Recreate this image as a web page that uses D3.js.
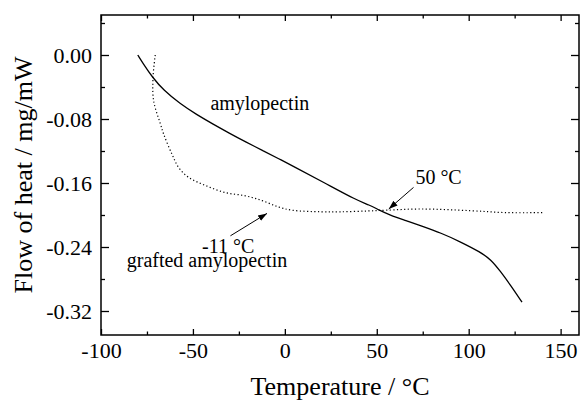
<!DOCTYPE html>
<html>
<head>
<meta charset="utf-8">
<script src="https://cdn.jsdelivr.net/npm/d3@7"></script>
<style>
  body { margin: 0; background: #fff; }
  text { font-family: "Liberation Serif", "Times New Roman", serif; fill: #000; }
</style>
</head>
<body>
<svg width="583" height="402"></svg>
<script>
var svg = d3.select('svg');
var width = +svg.attr('width');
var height = +svg.attr('height');

// amylopectin (solid)
const amyloTemp = [-80, -77, -72, -66, -57, -48, -39, -30, -21, -12, -3, 4, 21, 39, 46, 51, 57, 66, 74, 85, 95.5, 106.4, 112, 117.3, 122.7, 129];
const amyloFlow = [0, -0.011, -0.028, -0.044, -0.061, -0.0745, -0.0865, -0.098, -0.109, -0.1195, -0.130, -0.1385, -0.159, -0.1815, -0.1875, -0.1935, -0.200, -0.207, -0.2135, -0.2225, -0.2335, -0.2465, -0.2555, -0.2705, -0.2875, -0.309];

// grafted amylopectin (dotted)
const graftTemp = [-70.5, -71.7, -71.4, -67.7, -65.9, -61.4, -57.8, -52.3, -43.3, -32.4, -21.5, -12.4, -3.4, 3.9, 20, 30, 45, 55, 74, 101, 120, 140];
const graftFlow = [0, -0.028, -0.057, -0.086, -0.099, -0.124, -0.1405, -0.153, -0.163, -0.172, -0.176, -0.182, -0.190, -0.194, -0.196, -0.196, -0.195, -0.194, -0.1925, -0.1946, -0.197, -0.197];

const xMajor = [-100, -50, 0, 50, 100, 150];
const xMinor = [-75, -25, 25, 75, 125];
const yMajor = [0, -0.08, -0.16, -0.24, -0.32];
const yMinor = [0.04, -0.04, -0.12, -0.20, -0.28];

// annotations (data units)
const labels = [
  {text: "amylopectin", t: -40.5, v: -0.069},
  {text: "50 °C", t: 71, v: -0.161},
  {text: "-11 °C", t: -45, v: -0.247},
  {text: "grafted amylopectin", t: -86, v: -0.265}
];
const arrows = [
  {t0: 70, v0: -0.1655, t1: 56.5, v1: -0.1925},
  {t0: -29.6, v0: -0.226, t1: -9.7, v1: -0.198}
];

const margin = {top: 15, right: 4, bottom: 67, left: 101};
const innerWidth = width - margin.left - margin.right;
const innerHeight = height - margin.top - margin.bottom;

const xScale = d3.scaleLinear().domain([-100, 160]).range([0, innerWidth]);
const yScale = d3.scaleLinear().domain([-0.35, 0.05]).range([innerHeight, 0]);

const g = svg.append('g')
  .attr('transform', `translate(${margin.left}, ${margin.top})`);

// axes, ticks pointing inward
function styleAxis(sel) {
  sel.select('.domain').remove();
  sel.selectAll('line').attr('stroke', '#000').attr('stroke-width', 1.3);
  sel.selectAll('text').style('font-family', '"Liberation Serif", serif').style('font-size', '22px');
}
function noLabels(sel) {
  styleAxis(sel);
  sel.selectAll('text').remove();
}
g.append('g').attr('transform', `translate(0,${innerHeight})`)
  .call(d3.axisBottom(xScale).tickValues(xMajor).tickSize(-6).tickPadding(7).tickFormat(d => String(d)))
  .call(styleAxis);
g.append('g').attr('transform', `translate(0,${innerHeight})`)
  .call(d3.axisBottom(xScale).tickValues(xMinor).tickSize(-3.5))
  .call(noLabels);
g.append('g')
  .call(d3.axisTop(xScale).tickValues(xMajor).tickSize(-6))
  .call(noLabels);
g.append('g')
  .call(d3.axisTop(xScale).tickValues(xMinor).tickSize(-3.5))
  .call(noLabels);
g.append('g')
  .call(d3.axisLeft(yScale).tickValues(yMajor).tickSize(-8).tickPadding(9).tickFormat(d => d.toFixed(2)))
  .call(styleAxis);
g.append('g')
  .call(d3.axisLeft(yScale).tickValues(yMinor).tickSize(-4))
  .call(noLabels);
g.append('g').attr('transform', `translate(${innerWidth},0)`)
  .call(d3.axisRight(yScale).tickValues(yMajor).tickSize(-8))
  .call(noLabels);
g.append('g').attr('transform', `translate(${innerWidth},0)`)
  .call(d3.axisRight(yScale).tickValues(yMinor).tickSize(-4))
  .call(noLabels);

// frame
g.append('rect')
  .attr('width', innerWidth).attr('height', innerHeight)
  .attr('fill', 'none').attr('stroke', '#000').attr('stroke-width', 1.5);

// curves
const smoothLine = d3.line()
  .x(d => xScale(d[0]))
  .y(d => yScale(d[1]))
  .curve(d3.curveBasis);
const line = d3.line()
  .x(d => xScale(d[0]))
  .y(d => yScale(d[1]))
  .curve(d3.curveCatmullRom.alpha(0.5));

g.append('path')
  .datum(d3.zip(amyloTemp, amyloFlow))
  .attr('d', smoothLine)
  .attr('fill', 'none').attr('stroke', '#000').attr('stroke-width', 1.3);

g.append('path')
  .datum(d3.zip(graftTemp, graftFlow))
  .attr('d', line)
  .attr('fill', 'none').attr('stroke', '#000').attr('stroke-width', 1.2)
  .attr('stroke-dasharray', '1.2,2.4');

// arrows
svg.append('defs').append('marker')
  .attr('id', 'head').attr('viewBox', '0 0 10 10')
  .attr('refX', 10).attr('refY', 5)
  .attr('markerWidth', 9).attr('markerHeight', 9)
  .attr('markerUnits', 'userSpaceOnUse')
  .attr('orient', 'auto')
  .append('path').attr('d', 'M0,1.5 L10,5 L0,8.5 Z').attr('fill', '#000');

g.selectAll('.arrow').data(arrows).enter().append('line')
  .attr('class', 'arrow')
  .attr('x1', d => xScale(d.t0)).attr('y1', d => yScale(d.v0))
  .attr('x2', d => xScale(d.t1)).attr('y2', d => yScale(d.v1))
  .attr('stroke', '#000').attr('stroke-width', 1)
  .attr('marker-end', 'url(#head)');

g.selectAll('.lbl').data(labels).enter().append('text')
  .attr('class', 'lbl')
  .attr('x', d => xScale(d.t)).attr('y', d => yScale(d.v))
  .style('font-size', '20px')
  .text(d => d.text);

// axis titles
svg.append('text')
  .attr('x', margin.left + innerWidth / 2)
  .attr('y', 395)
  .attr('text-anchor', 'middle')
  .style('font-size', '26px')
  .text('Temperature / °C');

svg.append('text')
  .attr('transform', `translate(32, ${margin.top + innerHeight / 2}) rotate(-90)`)
  .attr('text-anchor', 'middle')
  .style('font-size', '26px')
  .text('Flow of heat / mg/mW');
</script>
</body>
</html>
